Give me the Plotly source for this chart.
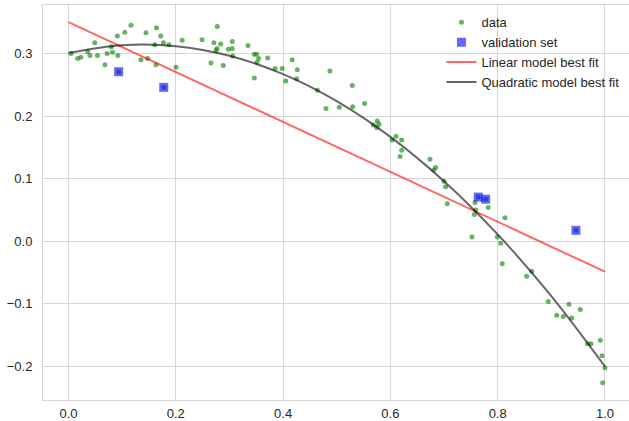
import plotly.graph_objects as go

# ---- data ----
data_x = [0.005, 0.017, 0.023, 0.036, 0.040, 0.049, 0.054, 0.068, 0.072, 0.080, 0.082, 0.091, 0.092, 0.0935,
          0.105, 0.1165, 0.135, 0.1445, 0.1475, 0.161, 0.163, 0.164, 0.172, 0.177, 0.1775, 0.187, 0.2004,
          0.212, 0.249, 0.2656, 0.271, 0.275, 0.2774, 0.2768, 0.2837, 0.2886, 0.298, 0.3053, 0.3053, 0.306,
          0.3346, 0.3464, 0.3508, 0.3545, 0.3514, 0.3464, 0.3713, 0.385, 0.3985, 0.405, 0.417, 0.4265, 0.4253,
          0.464, 0.4874, 0.480, 0.5048, 0.529, 0.5297, 0.552, 0.5756, 0.5787, 0.568, 0.5745, 0.6104, 0.603,
          0.621, 0.621, 0.618, 0.6738, 0.6844, 0.681, 0.700, 0.703, 0.706, 0.7638, 0.7776, 0.7577, 0.7825,
          0.7564, 0.759, 0.8136, 0.7521, 0.7993, 0.8056, 0.9459, 0.8086, 0.854, 0.8634, 0.8943, 0.933, 0.910,
          0.9223, 0.938, 0.954, 0.9677, 0.974, 0.9913, 0.9944, 1.0, 0.9957]
data_y = [0.300, 0.292, 0.294, 0.303, 0.297, 0.317, 0.297, 0.282, 0.300, 0.311, 0.302, 0.328, 0.297, 0.271,
          0.334, 0.345, 0.290, 0.333, 0.292, 0.314, 0.282, 0.341, 0.328, 0.317, 0.246, 0.314, 0.278,
          0.321, 0.322, 0.285, 0.317, 0.305, 0.343, 0.308, 0.315, 0.281, 0.307, 0.319, 0.308, 0.296,
          0.313, 0.299, 0.299, 0.292, 0.286, 0.261, 0.293, 0.276, 0.276, 0.256, 0.290, 0.274, 0.2595,
          0.2415, 0.272, 0.212, 0.214, 0.249, 0.215, 0.220, 0.192, 0.187, 0.186, 0.182, 0.168, 0.162,
          0.162, 0.1455, 0.1355, 0.131, 0.118, 0.114, 0.096, 0.087, 0.060, 0.0706, 0.0673, 0.062, 0.054,
          0.043, 0.050, 0.0375, 0.007, 0.007, -0.003, 0.0175, -0.036, -0.056, -0.048, -0.096, -0.1005, -0.118,
          -0.120, -0.1227, -0.109, -0.1636, -0.1636, -0.158, -0.183, -0.202, -0.226]

val_x = [0.0935, 0.1775, 0.7638, 0.7776, 0.9459]
val_y = [0.2709, 0.2460, 0.0706, 0.0673, 0.0175]

lin_x = [0.0, 1.0]
lin_y = [0.350, -0.0485]

quad_x = [0.0, 0.1, 0.2, 0.3, 0.4, 0.5, 0.6, 0.7, 0.8, 0.9, 1.0]
quad_y = [0.301, 0.3133, 0.3118, 0.2964, 0.2671, 0.2240, 0.1669, 0.0960, 0.0110, -0.0875, -0.2000]

x_ticks = [0.0, 0.2, 0.4, 0.6, 0.8, 1.0]
x_tick_labels = ["0.0", "0.2", "0.4", "0.6", "0.8", "1.0"]
y_ticks = [-0.2, -0.1, 0.0, 0.1, 0.2, 0.3]
y_tick_labels = ["\u22120.2", "\u22120.1", "0.0", "0.1", "0.2", "0.3"]

FONT = "Liberation Sans, Arial, sans-serif"
GRID = "#d6d6d6"

fig = go.Figure()
fig.add_trace(go.Scatter(x=data_x, y=data_y, mode="markers", name="data",
                         marker=dict(color="rgba(0,128,0,0.6)", size=5, line=dict(width=0))))
fig.add_trace(go.Scatter(x=val_x, y=val_y, mode="markers", name="validation set",
                         marker=dict(color="rgba(0,0,255,0.6)", size=9, symbol="square", line=dict(width=0))))
fig.add_trace(go.Scatter(x=lin_x, y=lin_y, mode="lines", name="Linear model best fit",
                         line=dict(color="rgba(255,0,0,0.6)", width=2)))
fig.add_trace(go.Scatter(x=quad_x, y=quad_y, mode="lines", name="Quadratic model best fit",
                         line=dict(color="rgba(0,0,0,0.6)", width=2, shape="spline")))

fig.update_layout(
    width=629, height=421,
    margin=dict(l=43, r=0, t=5, b=21, autoexpand=False),
    paper_bgcolor="white", plot_bgcolor="white",
    font=dict(family=FONT, size=13, color="#262626"),
    showlegend=True,
    legend=dict(x=0.68, y=0.994, xanchor="left", yanchor="top",
                bgcolor="rgba(0,0,0,0)", borderwidth=0,
                font=dict(family=FONT, size=13, color="#262626")),
)
fig.update_xaxes(range=[-0.0475, 1.0448], tickvals=x_ticks, ticktext=x_tick_labels, automargin=False,
                 showgrid=True, gridcolor=GRID, gridwidth=1, zeroline=False,
                 showline=True, linecolor=GRID, linewidth=1, mirror=True,
                 ticks="outside", ticklen=1, tickcolor="rgba(0,0,0,0)")
fig.update_yaxes(range=[-0.2535, 0.3775], tickvals=y_ticks, ticktext=y_tick_labels, automargin=False,
                 showgrid=True, gridcolor=GRID, gridwidth=1, zeroline=False,
                 showline=True, linecolor=GRID, linewidth=1, mirror=True,
                 ticks="outside", ticklen=7, tickcolor="rgba(0,0,0,0)")

fig.write_html("out.html", config={"displayModeBar": False},
               post_script="document.body.style.margin='0';document.body.style.padding='0';")
